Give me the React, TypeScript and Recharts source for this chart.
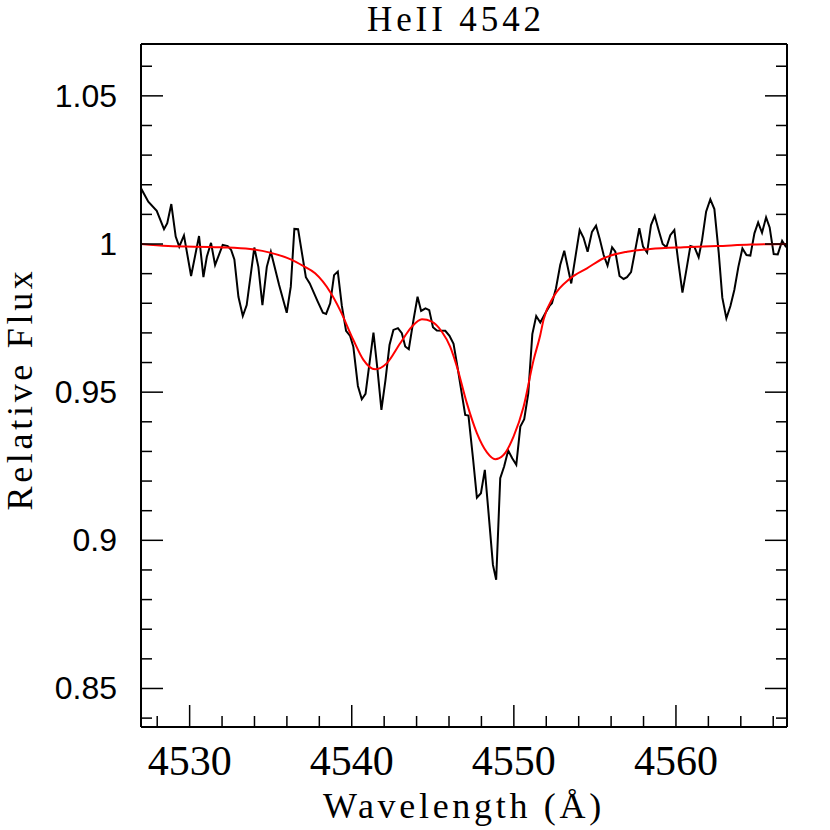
import React from 'react';
import { LineChart, Line, XAxis, YAxis } from 'recharts';

// wavelength (A) and relative flux of the observed spectrum
const obsWave = [
  4527.0, 4527.45, 4527.97, 4528.42, 4528.62, 4528.87, 4529.14, 4529.36, 4529.65, 4530.09,
  4530.58, 4530.85, 4531.06, 4531.32, 4531.57, 4532.04, 4532.35, 4532.56, 4532.76, 4533.01,
  4533.28, 4533.52, 4533.99, 4534.24, 4534.49, 4534.76, 4535.01, 4535.52, 4535.99, 4536.24,
  4536.46, 4536.69, 4537.17, 4537.41, 4537.91, 4538.22, 4538.42, 4538.67, 4538.91, 4539.14,
  4539.39, 4539.65, 4539.9, 4540.1, 4540.38, 4540.62, 4540.85, 4541.34, 4541.59, 4541.83,
  4542.08, 4542.33, 4542.57, 4542.85, 4543.09, 4543.3, 4543.52, 4543.81, 4544.06, 4544.28,
  4544.55, 4544.78, 4545.01, 4545.25, 4545.77, 4546.03, 4546.28, 4546.52, 4546.75, 4547.0,
  4547.2, 4547.48, 4547.72, 4547.97, 4548.21, 4548.44, 4548.71, 4548.91, 4549.16, 4549.4,
  4549.65, 4549.9, 4550.15, 4550.4, 4550.64, 4550.89, 4551.14, 4551.38, 4551.63, 4551.94,
  4552.2, 4552.35, 4552.6, 4552.86, 4553.11, 4553.54, 4554.06, 4554.3, 4554.55, 4554.82,
  4555.07, 4555.29, 4555.54, 4555.78, 4556.06, 4556.26, 4556.52, 4556.77, 4556.98, 4557.23,
  4557.49, 4557.74, 4557.97, 4558.22, 4558.46, 4558.69, 4558.93, 4559.18, 4559.41, 4559.65,
  4559.9, 4560.13, 4560.4, 4560.64, 4560.89, 4561.15, 4561.4, 4561.61, 4561.86, 4562.12,
  4562.37, 4562.64, 4562.86, 4563.11, 4563.36, 4563.6, 4563.85, 4564.1, 4564.35, 4564.59,
  4564.84, 4565.07, 4565.31, 4565.56, 4565.78, 4566.03, 4566.28, 4566.55, 4566.8,
];
const obsFlux = [
  1.0188, 1.0143, 1.0112, 1.005, 1.007, 1.0135, 1.0025, 0.9991, 1.0029, 0.9892,
  1.0027, 0.9888, 0.9957, 1.0004, 0.9929, 0.9997, 0.9993, 0.998, 0.9948, 0.9822,
  0.9757, 0.9794, 0.9988, 0.9923, 0.9794, 0.9923, 0.9974, 0.9862, 0.9768, 0.9856,
  1.0051, 1.005, 0.9888, 0.9867, 0.9805, 0.9768, 0.9764, 0.98, 0.9895, 0.9907,
  0.9791, 0.9707, 0.969, 0.9653, 0.9521, 0.9476, 0.9494, 0.9701, 0.9575, 0.944,
  0.9541, 0.9659, 0.971, 0.9716, 0.9699, 0.9654, 0.9645, 0.9744, 0.9822, 0.9774,
  0.9783, 0.9777, 0.9719, 0.9708, 0.9707, 0.969, 0.9663, 0.9586, 0.9508, 0.9423,
  0.9421, 0.9277, 0.9144, 0.9159, 0.9238, 0.9092, 0.8917, 0.8867, 0.921, 0.9249,
  0.9303, 0.9277, 0.9255, 0.9384, 0.9409, 0.9496, 0.9696, 0.9757, 0.9735, 0.9766,
  0.9791, 0.98, 0.9851, 0.9929, 0.9977, 0.9867, 1.0047, 1.0021, 0.9974, 1.0041,
  1.0062, 1.0019, 0.9963, 0.9927, 0.9989, 0.9974, 0.9892, 0.9882, 0.9888, 0.9905,
  0.998, 1.0053, 0.9991, 0.9971, 1.0064, 1.0095, 1.0047, 1.0, 0.9989, 1.003,
  1.0047, 0.9946, 0.9836, 0.9912, 0.9993, 0.9989, 0.9955, 1.0013, 1.0109, 1.0151,
  1.0118, 0.9969, 0.9819, 0.9749, 0.9791, 0.9845, 0.9923, 0.9985, 0.9963, 0.9961,
  1.0036, 1.0073, 1.0038, 1.009, 1.0056, 0.9966, 0.9965, 1.0011, 0.9989,
];

// model profile (red)
const modelWave = [
  4527.0, 4528.67, 4531.88, 4533.73, 4534.96, 4536.2, 4537.0, 4537.74, 4538.67, 4539.28,
  4540.1, 4540.72, 4541.44, 4542.17, 4542.99, 4543.71, 4544.33, 4544.94, 4545.56, 4546.07,
  4546.49, 4547.1, 4547.72, 4548.34, 4548.85, 4549.36, 4549.98, 4550.6, 4551.22, 4551.63,
  4551.83, 4552.45, 4553.48, 4554.51, 4555.54, 4556.98, 4558.42, 4560.48, 4562.54, 4564.6,
  4566.85,
];
const modelFlux = [
  1.0, 0.9993, 0.9989, 0.9983, 0.9971, 0.9949, 0.9926, 0.9901, 0.9838, 0.9777,
  0.9676, 0.9609, 0.9577, 0.9598, 0.9665, 0.9721, 0.9746, 0.9738, 0.9704, 0.9654,
  0.9586, 0.9463, 0.9362, 0.9297, 0.9274, 0.9288, 0.935, 0.9451, 0.9609, 0.9693,
  0.9744, 0.9822, 0.9884, 0.9918, 0.9952, 0.9974, 0.9983, 0.9989, 0.9993, 0.9998,
  1.0,
];

const xMajor = [4530, 4540, 4550, 4560];
const xTicks = [
  4528, 4530, 4532, 4534, 4536, 4538, 4540, 4542, 4544, 4546,
  4548, 4550, 4552, 4554, 4556, 4558, 4560, 4562, 4564, 4566,
];
const yMajor = [0.85, 0.9, 0.95, 1, 1.05];
const yTicks = [
  0.84, 0.85, 0.86, 0.87, 0.88, 0.89, 0.9, 0.91, 0.92, 0.93, 0.94, 0.95,
  0.96, 0.97, 0.98, 0.99, 1, 1.01, 1.02, 1.03, 1.04, 1.05, 1.06,
];

const obs = obsWave.map((w, i) => ({ w, f: obsFlux[i] }));
const model = modelWave.map((w, i) => ({ w, f: modelFlux[i] }));

const xDomain = [4527, 4566.85];
const yDomain = [0.837, 1.0675];

const serif = '"Liberation Serif", serif';
const MAJOR = 22;
const MINOR = 11;

const isMajor = (list: number[], v: number) => list.some((m) => Math.abs(m - v) < 1e-6);

// tick marks point inward; labels only on bottom and left
function Tick({ x, y, payload, side }: any) {
  const v = payload.value;
  const major = side === 'top' || side === 'bottom' ? isMajor(xMajor, v) : isMajor(yMajor, v);
  const len = major ? MAJOR : MINOR;
  let l = { x1: x, y1: y, x2: x, y2: y };
  if (side === 'bottom') l.y2 = y - len;
  if (side === 'top') l.y2 = y + len;
  if (side === 'left') l.x2 = x + len;
  if (side === 'right') l.x2 = x - len;
  return (
    <g>
      <line {...l} stroke="#000" strokeWidth={1.5} />
      {major && side === 'bottom' && (
        <text
          x={x} y={y + 48} textAnchor="middle" fill="#000"
          style={{ fontFamily: serif, fontSize: 42 }}
        >
          {v}
        </text>
      )}
      {major && side === 'left' && (
        <text
          x={x - 24} y={y + 11} textAnchor="end" fill="#000"
          style={{ fontFamily: '"Liberation Sans", sans-serif', fontSize: 32 }}
        >
          {String(v)}
        </text>
      )}
    </g>
  );
}

const frame = { stroke: '#000', strokeWidth: 2 };

export default function App() {
  return (
    <div style={{ position: 'absolute', left: 0, top: 0 }}>
      <LineChart
        width={830}
        height={830}
        margin={{ top: 43, right: 42, bottom: 102, left: 140 }}
      >
        <XAxis
          xAxisId="x" dataKey="w" type="number" domain={xDomain} allowDataOverflow
          ticks={xTicks} interval={0} height={1} tickSize={0} tickMargin={0}
          axisLine={frame} tickLine={false}
          tick={(p: any) => <Tick {...p} side="bottom" />}
        />
        <XAxis
          xAxisId="xt" orientation="top" type="number" domain={xDomain} allowDataOverflow
          ticks={xTicks} interval={0} height={1} tickSize={0} tickMargin={0}
          axisLine={frame} tickLine={false}
          tick={(p: any) => <Tick {...p} side="top" />}
        />
        <YAxis
          yAxisId="y" type="number" domain={yDomain} allowDataOverflow
          ticks={yTicks} interval={0} width={1} tickSize={0} tickMargin={0}
          axisLine={frame} tickLine={false}
          tick={(p: any) => <Tick {...p} side="left" />}
        />
        <YAxis
          yAxisId="yr" orientation="right" type="number" domain={yDomain} allowDataOverflow
          ticks={yTicks} interval={0} width={1} tickSize={0} tickMargin={0}
          axisLine={frame} tickLine={false}
          tick={(p: any) => <Tick {...p} side="right" />}
        />
        <Line
          data={obs} dataKey="f" xAxisId="x" yAxisId="y" type="linear"
          stroke="#000" strokeWidth={2} dot={false} isAnimationActive={false}
        />
        <Line
          data={model} dataKey="f" xAxisId="x" yAxisId="y" type="monotone"
          stroke="#ff0000" strokeWidth={2} dot={false} isAnimationActive={false}
        />
        <text x={456} y={31} textAnchor="middle" fontFamily={serif} fontSize={35} letterSpacing={3.9}>
          HeII 4542
        </text>
        <text x={464} y={818} textAnchor="middle" fontFamily={serif} fontSize={36} letterSpacing={3.7}>
          Wavelength (Å)
        </text>
        <text
          x={0} y={0} transform="translate(32,389) rotate(-90)" textAnchor="middle"
          fontFamily={serif} fontSize={36} letterSpacing={3.7}
        >
          Relative Flux
        </text>
      </LineChart>
    </div>
  );
}
